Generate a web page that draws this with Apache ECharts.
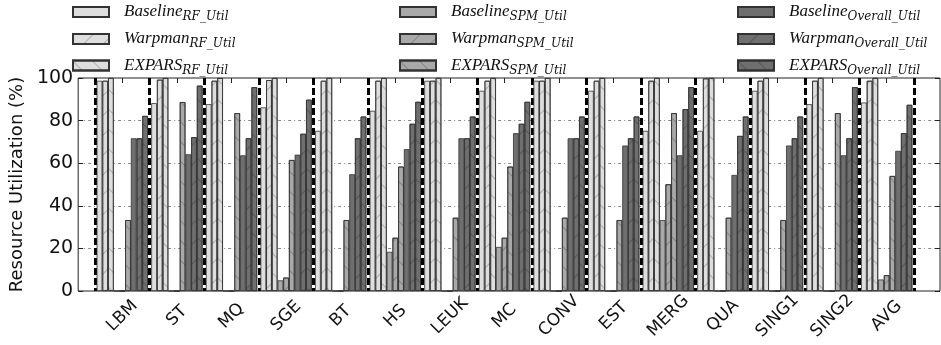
<!DOCTYPE html>
<html><head><meta charset="utf-8">
<script src="https://cdn.jsdelivr.net/npm/echarts@6/dist/echarts.min.js"></script>
<style>html,body{margin:0;padding:0;background:#fff}#c{width:941px;height:345px}</style>
</head><body><div id="c"></div>
<script>
const categories = ['LBM','ST','MQ','SGE','BT','HS','LEUK','MC','CONV','EST','MERG','QUA','SING1','SING2','AVG'];
const yTicks = [0, 20, 40, 60, 80, 100];

const baselineRF = [98.7, 88.2, 87.7, 86.2, 75.2, 84.6, 98.7, 94.0, 98.7, 94.0, 75.2, 75.2, 94.0, 87.7, 88.5];
const warpmanRF  = [98.7, 99.2, 98.7, 99.0, 98.7, 98.7, 98.7, 98.7, 98.7, 98.7, 98.7, 99.8, 98.7, 98.7, 98.7];
const exparsRF   = [100, 100, 100, 100, 100, 100, 100, 100, 100, 100, 100, 100, 100, 100, 100];

const baselineSPM = [0, 0, 0, 5.0, 0, 18.4, 0, 20.7, 0, 0, 33.3, 0, 0, 0, 5.4];
const warpmanSPM  = [0, 0, 0, 6.3, 0, 25.0, 0, 25.0, 0, 0, 50.1, 0, 0, 0, 7.4];
const exparsSPM   = [33.3, 88.7, 83.5, 61.5, 33.3, 58.4, 34.4, 58.4, 34.4, 33.3, 83.5, 34.4, 33.3, 83.5, 54.0];

const baselineOverall = [71.7, 64.2, 63.7, 64.0, 54.8, 66.6, 71.7, 74.1, 71.7, 68.3, 63.7, 54.5, 68.3, 63.7, 65.8];
const warpmanOverall  = [71.7, 72.2, 71.7, 73.8, 71.7, 78.5, 71.7, 78.5, 71.7, 71.7, 85.4, 72.8, 71.7, 71.7, 74.1];
const exparsOverall   = [82.2, 96.4, 95.7, 89.8, 81.9, 88.8, 81.9, 88.8, 81.9, 81.9, 95.7, 81.9, 81.9, 95.7, 87.4];

const seriesNames = [
  'Baseline_RF_Util', 'Warpman_RF_Util', 'EXPARS_RF_Util',
  'Baseline_SPM_Util', 'Warpman_SPM_Util', 'EXPARS_SPM_Util',
  'Baseline_Overall_Util', 'Warpman_Overall_Util', 'EXPARS_Overall_Util'
];
const seriesData = [baselineRF, warpmanRF, exparsRF, baselineSPM, warpmanSPM, exparsSPM, baselineOverall, warpmanOverall, exparsOverall];

const fills = ['#dedede', '#a9a9a9', '#6f6f6f'];
function hatch(kind) {
  if (kind === 0) return null;
  return {
    symbol: 'rect', symbolSize: 1,
    dashArrayX: [1, 0], dashArrayY: [1, 13],
    rotation: kind === 1 ? -Math.PI / 4 : Math.PI / 4,
    color: 'rgba(0,0,0,0.22)', backgroundColor: null
  };
}

const series = seriesNames.map((name, i) => {
  const group = Math.floor(i / 3), kind = i % 3;
  const it = { color: fills[group], borderColor: '#333', borderWidth: 0.8 };
  const d = hatch(kind);
  if (d) it.decal = d;
  return {
    name, type: 'bar', xAxisIndex: 1, yAxisIndex: 2,
    data: seriesData[i], barGap: '0%', barCategoryGap: '6%',
    itemStyle: it, emphasis: { disabled: true }
  };
});

const colLeft = [72, 399, 737];
const rowCenter = [14.5, 41.5, 68];
const legends = seriesNames.map((name, i) => {
  const col = Math.floor(i / 3), row = i % 3;
  return {
    data: [name], left: colLeft[col], top: rowCenter[row] - 11,
    padding: 0, itemWidth: 36, itemHeight: 10, icon: 'rect', selectedMode: false,
    formatter: (n) => {
      const k = n.indexOf('_');
      return '{m|' + n.slice(0, k) + '}{s|' + n.slice(k + 1) + '}';
    },
    textStyle: {
      rich: {
        m: { fontFamily: 'Liberation Serif', fontStyle: 'italic', fontSize: 17, color: '#111', lineHeight: 22, padding: [0, 0, 0, 10], verticalAlign: 'middle' },
        s: { fontFamily: 'DejaVu Serif', fontStyle: 'italic', fontSize: 12, color: '#111', lineHeight: 6, verticalAlign: 'bottom' }
      }
    }
  };
});

const chart = echarts.init(document.getElementById('c'), null, { renderer: 'canvas' });
chart.setOption({
  animation: false,
  backgroundColor: '#fff',
  legend: legends,
  grid: [
    { left: 68, right: 1, top: 78, bottom: 54, show: true, borderColor: '#222', borderWidth: 1, backgroundColor: 'transparent' },
    { left: 95, right: 27, top: 78, bottom: 54 }
  ],
  xAxis: [
    { gridIndex: 0, type: 'category', data: [''], show: false },
    {
      gridIndex: 1, type: 'category', data: categories, boundaryGap: true,
      axisLine: { show: false }, axisTick: { show: false },
      axisLabel: { interval: 0, rotate: 45, align: 'center', verticalAlign: 'middle', margin: 25, fontSize: 17, color: '#111', fontFamily: 'DejaVu Sans' },
      splitLine: { show: true, interval: 0, lineStyle: { color: '#000', width: 3, type: [7, 3] } }
    },
    {
      gridIndex: 1, type: 'category', position: 'top', data: categories,
      axisLine: { show: false }, axisLabel: { show: false },
      axisTick: { show: true, inside: true, alignWithLabel: true, length: 5, interval: 0, lineStyle: { color: '#222' } },
      splitLine: { show: false }
    }
  ],
  yAxis: [
    {
      gridIndex: 0, type: 'value', min: yTicks[0], max: yTicks[yTicks.length - 1], interval: 20,
      axisLine: { show: false }, axisTick: { show: true, inside: true, length: 5, lineStyle: { color: '#222' } },
      axisLabel: { fontSize: 19, color: '#111', margin: 5, fontFamily: 'DejaVu Sans' },
      splitLine: { show: true, showMinLine: false, showMaxLine: false, lineStyle: { color: '#888', width: 1, type: [3, 3, 1, 3] } },
      name: 'Resource Utilization (%)', nameLocation: 'middle', nameGap: 42,
      nameTextStyle: { fontSize: 18, color: '#111', fontFamily: 'DejaVu Sans' }
    },
    {
      gridIndex: 0, type: 'value', position: 'right', min: 0, max: 100, interval: 20,
      axisLine: { show: false }, axisLabel: { show: false }, splitLine: { show: false },
      axisTick: { show: true, inside: true, length: 5, lineStyle: { color: '#222' } }
    },
    { gridIndex: 1, type: 'value', min: 0, max: 100, show: false }
  ],
  series: series
});
</script>
</body></html>
